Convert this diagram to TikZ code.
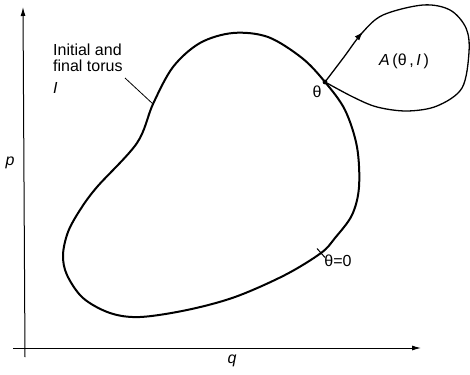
\documentclass[tikz,border=0pt]{standalone}
\usepackage{fontspec}
\setmainfont{Liberation Sans}
\usetikzlibrary{arrows.meta,decorations.markings,calc}
\tikzset{
  axis/.style={line width=1pt,-{Latex[length=9pt,width=5pt]}},
  torus/.style={line width=2pt,line join=round},
  loopline/.style={line width=1.3pt},
  leader/.style={line width=0.8pt},
  lbl/.style={font=\fontsize{16}{16}\selectfont,inner sep=0pt},
}
\begin{document}
\begin{tikzpicture}[x=1pt,y=-1pt]
\useasboundingbox (0,0) rectangle (470,374);
% axes
\coordinate (ybot) at (25,357);
\coordinate (ytop) at (23,7);
\coordinate (xl) at (13,348);
\coordinate (xr) at (421,348);
\draw[axis] (ybot) -- (ytop);
\draw[axis] (xl) -- (xr);
\node[lbl] (p) at (10,163) {\itshape p};
\node[lbl] (q) at (232,361) {\itshape q};
% torus
\draw[torus] plot[smooth cycle,tension=0.55] coordinates {
 (97,187) (137,143) (153,104) (173,67) (200,43) (233,33) (268,37) (302,58)
 (325,82) (345,110) (357,147) (359,187) (352,215) (335,238) (321,253)
 (285,275) (235,297) (187,310) (140,317) (110,313) (83,298) (67,275)
 (63,255) (68,232) (80,210)};
\coordinate (th) at (325,82);
\coordinate (th0) at (321,253);
\coordinate (lead) at (153,104);
% loop
\draw[loopline,postaction={decorate},decoration={markings,
  mark=at position 0.16 with {\arrow{Latex[length=9pt,width=6pt]}}}]
 plot[smooth,tension=0.55] coordinates {
 (325,82) (344,57) (362,33) (383,15) (423,5) (450,10) (466,28) (469,52)
 (462,88) (437,106) (407,111) (377,107) (353,97) (325,82)};
\fill (th) circle (2.4pt);
\draw[line width=1pt] ($(th0)+(-4,-4.5)$) -- ($(th0)+(4,4.5)$);
% labels
\node[lbl,anchor=base west,align=left] (init) at (53,94)
  {Initial and\\final torus\\[6pt]\itshape I};
\coordinate (leadstart) at (125,78);
\draw[leader] (leadstart) -- (lead);
\node[lbl] (tlab) at (317,92) {θ};
\node[lbl] (alab) at (404,61) {\itshape A\upshape\,(θ\,,\,\itshape I\upshape\,)};
\node[lbl] (t0lab) at (338,261) {θ=0};
\end{tikzpicture}
\end{document}
